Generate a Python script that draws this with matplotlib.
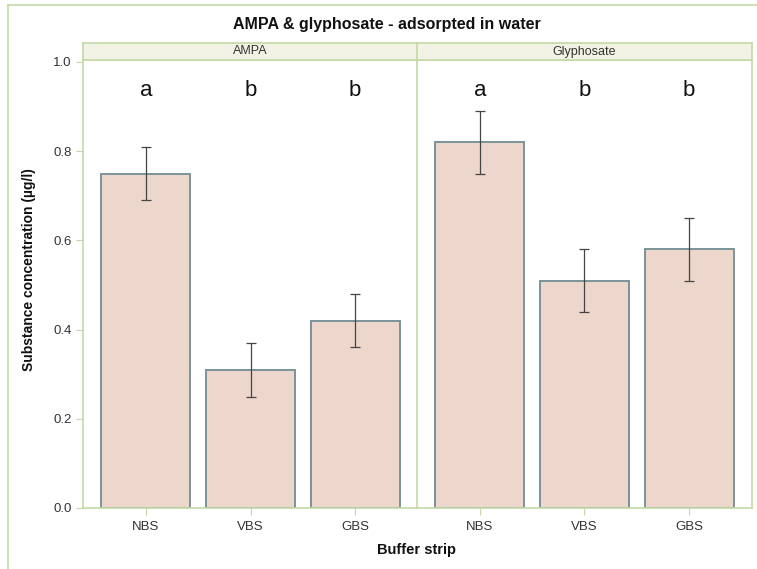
import matplotlib
matplotlib.use("Agg")
import matplotlib.pyplot as plt
from matplotlib.lines import Line2D

plt.rcParams['font.family'] = ['Liberation Sans', 'DejaVu Sans']

categories = ["NBS", "VBS", "GBS"]
panels = ["AMPA", "Glyphosate"]
means = {"AMPA": [0.75, 0.31, 0.42], "Glyphosate": [0.82, 0.51, 0.58]}
lower = {"AMPA": [0.69, 0.25, 0.36], "Glyphosate": [0.75, 0.44, 0.51]}
upper = {"AMPA": [0.81, 0.37, 0.48], "Glyphosate": [0.89, 0.58, 0.65]}
letters = {"AMPA": ["a", "b", "b"], "Glyphosate": ["a", "b", "b"]}
yticks = [0.0, 0.2, 0.4, 0.6, 0.8, 1.0]

W, H = 757, 569
fig = plt.figure(figsize=(W / 100, H / 100), dpi=100)

green = "#c3d9a5"
bar_fill = "#edd6cb"
bar_edge = "#7b939a"
txt = "#333333"

def fx(px):
    return px / W

def fy(py):
    return 1 - py / H

# outer frame lines (top and left)
fig.add_artist(Line2D([fx(8), 1.0], [fy(5), fy(5)], color=green, lw=1.2))
fig.add_artist(Line2D([fx(8), fx(8)], [0.0, fy(5)], color=green, lw=1.2))

panel_left = [83, 417]
panel_w = 335
top_px, bot_px, strip_top = 60, 508, 43

for i, p in enumerate(panels):
    ax = fig.add_axes([fx(panel_left[i]), fy(bot_px), panel_w / W, (bot_px - top_px) / H])
    x = list(range(len(categories)))
    err = [[m - l for m, l in zip(means[p], lower[p])],
           [u - m for m, u in zip(means[p], upper[p])]]
    ax.bar(x, means[p], width=0.85, color=bar_fill, edgecolor=bar_edge, linewidth=1.4, zorder=2)
    ax.errorbar(x, means[p], yerr=err, fmt='none', ecolor="#444444", elinewidth=0.9,
                capsize=3.5, capthick=0.9, zorder=3)
    for xi, lt in zip(x, letters[p]):
        ax.text(xi, 0.936, lt, ha='center', va='center', fontsize=16, color="#111111")
    ax.set_xlim(-0.6, 2.6)
    ax.set_ylim(0, (bot_px - top_px) / 446)
    for s in ax.spines.values():
        s.set_color(green)
        s.set_linewidth(1.2)
    ax.set_xticks(x)
    ax.set_xticklabels(categories, fontsize=9.5, color=txt)
    ax.tick_params(axis='x', length=5, color=green, pad=4)
    if i == 0:
        ax.set_yticks(yticks)
        ax.set_yticklabels([f"{v:.1f}" for v in yticks], fontsize=9.5, color=txt)
        ax.tick_params(axis='y', length=5, color=green, pad=3)
    else:
        ax.set_yticks([])
    # strip header
    sax = fig.add_axes([fx(panel_left[i]), fy(top_px), panel_w / W, (top_px - strip_top) / H])
    sax.set_facecolor("#f3f3e5")
    sax.set_xticks([])
    sax.set_yticks([])
    for s in sax.spines.values():
        s.set_color(green)
        s.set_linewidth(1.2)
    sax.text(0.5, 0.5, p, ha='center', va='center', fontsize=9, color=txt,
             transform=sax.transAxes)

fig.text(fx(387), fy(25), "AMPA & glyphosate - adsorpted in water", ha='center', va='center',
         fontsize=11.5, fontweight='bold', color="#111111")
fig.text(fx(417), fy(550), "Buffer strip", ha='center', va='center',
         fontsize=10.5, fontweight='bold', color="#111111")
fig.text(fx(29), fy(270), "Substance concentration (µg/l)", ha='center', va='center',
         rotation=90, fontsize=10, fontweight='bold', color="#111111")

fig.savefig("out.png", dpi=100)
